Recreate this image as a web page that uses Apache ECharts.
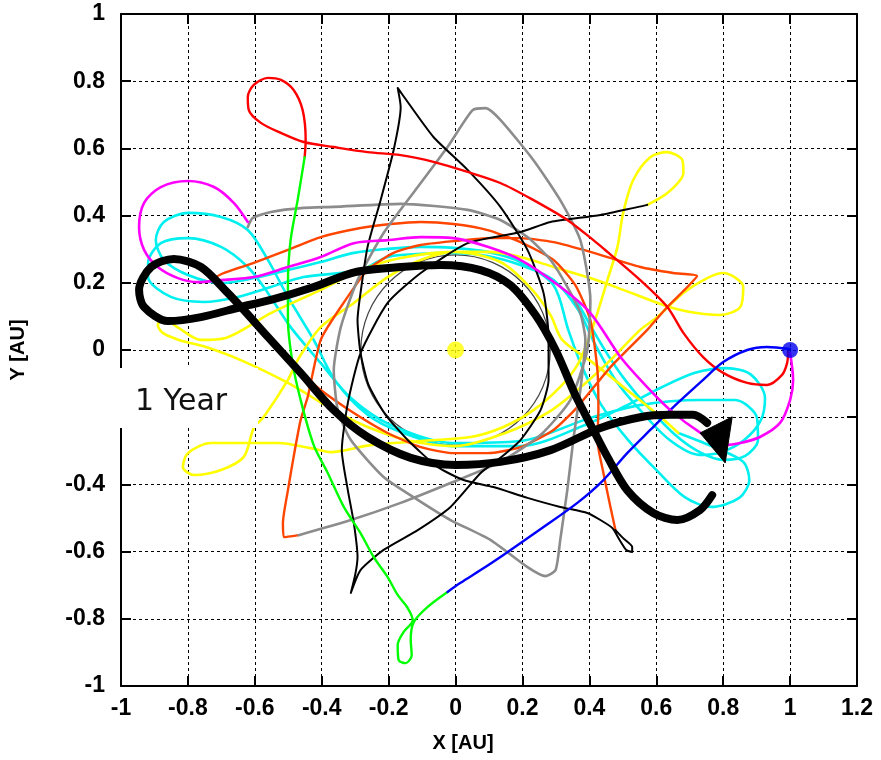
<!DOCTYPE html>
<html>
<head>
<meta charset="utf-8">
<script src="https://cdn.jsdelivr.net/npm/echarts/dist/echarts.min.js"></script>
<style>html,body{margin:0;padding:0;background:#fff}#c{width:881px;height:760px}</style>
</head>
<body>
<div id="c"></div>
<script>
// ---- tick values ----
const xTicks = [-1,-0.8,-0.6,-0.4,-0.2,0,0.2,0.4,0.6,0.8,1,1.2];
const yTicks = [-1,-0.8,-0.6,-0.4,-0.2,0,0.2,0.4,0.6,0.8,1];

// ---- trajectories [x AU, y AU] ----
const blueTrack = [[1.0,0.003],[0.931,0.009],[0.872,0],[0.8,-0.036],[0.74,-0.089],[0.651,-0.17],[0.582,-0.238],[0.513,-0.307],[0.442,-0.387],[0.364,-0.455],[0.263,-0.527],[0.143,-0.61],[0.075,-0.655],[0.015,-0.693],[-0.024,-0.72]];

const greenTrack = [[-0.024,-0.72],[-0.084,-0.765],[-0.125,-0.81],[-0.134,-0.863],[-0.131,-0.908],[-0.149,-0.932],[-0.17,-0.923],[-0.173,-0.878],[-0.155,-0.839],[-0.128,-0.804],[-0.143,-0.768],[-0.173,-0.729],[-0.203,-0.676],[-0.245,-0.616],[-0.284,-0.545],[-0.334,-0.467],[-0.382,-0.366],[-0.424,-0.283],[-0.463,-0.149],[-0.487,-0.039],[-0.501,0.089],[-0.501,0.199],[-0.493,0.327],[-0.472,0.446],[-0.451,0.574]];

const redTrack = [[-0.451,0.574],[-0.448,0.625],[-0.457,0.714],[-0.484,0.774],[-0.522,0.804],[-0.561,0.81],[-0.603,0.789],[-0.621,0.753],[-0.618,0.714],[-0.582,0.676],[-0.522,0.646],[-0.454,0.619],[-0.364,0.604],[-0.263,0.589],[-0.164,0.58],[-0.066,0.56],[0.036,0.53],[0.134,0.497],[0.233,0.446],[0.334,0.387],[0.412,0.327],[0.454,0.292],[0.552,0.208],[0.633,0.128],[0.681,0.051],[0.74,-0.021],[0.8,-0.068],[0.872,-0.098],[0.931,-0.104],[0.976,-0.074],[0.991,-0.039],[0.994,-0.006]];

const magentaTrack = [[1.0,-0.009],[1.009,-0.089],[1.0,-0.149],[0.97,-0.217],[0.91,-0.259],[0.851,-0.277],[0.806,-0.283],[0.73,-0.245],[0.642,-0.179],[0.561,-0.098],[0.493,-0.021],[0.403,0.11],[0.313,0.188],[0.194,0.268],[0.096,0.307],[-0.006,0.333],[-0.104,0.336],[-0.203,0.327],[-0.304,0.318],[-0.403,0.277],[-0.501,0.247],[-0.603,0.217],[-0.701,0.208],[-0.77,0.202],[-0.83,0.214],[-0.89,0.247],[-0.931,0.298],[-0.946,0.366],[-0.931,0.438],[-0.881,0.485],[-0.8,0.503],[-0.722,0.485],[-0.663,0.438],[-0.621,0.381]];

const grayTrack = [[-0.469,-0.551],[-0.313,-0.506],[-0.164,-0.455],[-0.015,-0.396],[0.134,-0.333],[0.254,-0.253],[0.343,-0.149],[0.394,0],[0.403,0.149],[0.373,0.327],[0.313,0.446],[0.233,0.565],[0.134,0.685],[0.09,0.72],[0.051,0.714],[-0.024,0.604],[-0.113,0.485],[-0.215,0.348],[-0.293,0.208],[-0.343,0.068],[-0.364,-0.06],[-0.352,-0.179],[-0.313,-0.268],[-0.215,-0.378],[-0.113,-0.446],[-0.015,-0.506],[0.104,-0.565],[0.215,-0.646],[0.269,-0.673],[0.299,-0.655],[0.313,-0.565],[0.334,-0.417],[0.352,-0.268],[0.373,-0.119],[0.388,0.03],[0.373,0.11],[0.334,0.188],[0.284,0.268],[0.215,0.336],[0.134,0.387],[0.036,0.417],[-0.164,0.435],[-0.364,0.426],[-0.454,0.423],[-0.552,0.411],[-0.606,0.393],[-0.621,0.366]];

const orangeTrack = [[-0.469,-0.551],[-0.513,-0.557],[-0.516,-0.515],[-0.501,-0.417],[-0.484,-0.318],[-0.463,-0.208],[-0.442,-0.14],[-0.403,0.03],[-0.343,0.128],[-0.263,0.238],[-0.185,0.289],[-0.104,0.3125],[-0.006,0.324],[0.096,0.333],[0.194,0.333],[0.293,0.321],[0.403,0.292],[0.552,0.247],[0.651,0.229],[0.722,0.22],[0.693,0.1875],[0.633,0.128],[0.573,0.06],[0.463,-0.051],[0.364,-0.17],[0.293,-0.238],[0.194,-0.289],[0.096,-0.307],[-0.006,-0.307],[-0.104,-0.289],[-0.203,-0.247],[-0.304,-0.1875],[-0.403,-0.119],[-0.463,-0.065],[-0.543,0.015],[-0.642,0.134],[-0.716,0.214],[-0.603,0.259],[-0.501,0.298],[-0.403,0.336],[-0.284,0.363],[-0.194,0.375],[-0.104,0.381],[-0.006,0.375],[0.096,0.357],[0.194,0.321],[0.293,0.268],[0.358,0.193],[0.403,0.089],[0.424,-0.06],[0.427,-0.179],[0.424,-0.268],[0.442,-0.366],[0.463,-0.467],[0.478,-0.536]];

const blackTrack = [[0.478,-0.536],[0.501,-0.56],[0.528,-0.586],[0.528,-0.601],[0.51,-0.595],[0.49,-0.565],[0.469,-0.53],[0.433,-0.506],[0.394,-0.485],[0.313,-0.467],[0.215,-0.44],[0.113,-0.408],[0.024,-0.387],[-0.054,-0.348],[-0.143,-0.268],[-0.209,-0.193],[-0.26,-0.104],[-0.284,-0.009],[-0.293,0.089],[-0.284,0.17],[-0.263,0.307],[-0.224,0.446],[-0.185,0.595],[-0.164,0.723],[-0.173,0.78],[-0.158,0.759],[-0.066,0.634],[0.036,0.536],[0.134,0.426],[0.215,0.298],[0.263,0.17],[0.278,0.039],[0.278,-0.089],[0.254,-0.179],[0.194,-0.268],[0.134,-0.321],[0.075,-0.366],[-0.015,-0.467],[-0.113,-0.536],[-0.215,-0.595],[-0.284,-0.655],[-0.313,-0.723],[-0.299,-0.664],[-0.293,-0.616],[-0.304,-0.515],[-0.322,-0.417],[-0.34,-0.298],[-0.322,-0.158],[-0.284,-0.009],[-0.203,0.14],[-0.104,0.229],[0.036,0.318],[0.194,0.351],[0.284,0.381],[0.433,0.402],[0.573,0.432]];

const yellowTrack = [[0.573,0.432],[0.633,0.467],[0.681,0.527],[0.678,0.565],[0.633,0.589],[0.582,0.574],[0.531,0.506],[0.501,0.408],[0.484,0.307],[0.454,0.208],[0.424,0.11],[0.397,0.03],[0.364,-0.045],[0.313,-0.11],[0.233,-0.179],[0.143,-0.229],[0.045,-0.259],[-0.104,-0.271],[-0.254,-0.283],[-0.373,-0.304],[-0.433,-0.292],[-0.531,-0.277],[-0.633,-0.277],[-0.731,-0.277],[-0.8,-0.307],[-0.815,-0.348],[-0.782,-0.372],[-0.701,-0.357],[-0.633,-0.318],[-0.603,-0.232],[-0.573,-0.199],[-0.501,-0.089],[-0.472,-0.03],[-0.403,0.068],[-0.304,0.14],[-0.203,0.217],[-0.104,0.268],[-0.006,0.292],[0.096,0.292],[0.194,0.277],[0.293,0.247],[0.403,0.214],[0.501,0.179],[0.621,0.134],[0.701,0.113],[0.791,0.104],[0.851,0.128],[0.86,0.1875],[0.8,0.229],[0.752,0.214],[0.681,0.17],[0.603,0.098],[0.552,0.06],[0.469,-0.024],[0.382,-0.104],[0.278,-0.185],[0.149,-0.247],[0,-0.286],[-0.134,-0.271],[-0.263,-0.229],[-0.364,-0.179],[-0.501,-0.098],[-0.642,-0.03],[-0.746,0.009],[-0.827,0.03],[-0.875,0.051],[-0.89,0.074],[-0.872,0.092],[-0.827,0.065],[-0.761,0.03],[-0.687,0.036],[-0.552,0.11],[-0.403,0.179],[-0.284,0.238],[-0.164,0.274],[-0.006,0.292],[0.134,0.262],[0.224,0.185],[0.284,0.104],[0.319,0.03],[0.412,-0.039],[0.513,-0.119],[0.612,-0.199],[0.666,-0.247]];

const cyanTrack = [[0.666,-0.247],[0.779,-0.292],[0.86,-0.333],[0.878,-0.387],[0.848,-0.44],[0.764,-0.467],[0.684,-0.437],[0.6,-0.357],[0.516,-0.268],[0.436,-0.164],[0.376,-0.045],[0.337,0.06],[0.293,0.193],[0.194,0.262],[0.096,0.292],[-0.006,0.304],[-0.104,0.307],[-0.203,0.301],[-0.304,0.289],[-0.403,0.262],[-0.501,0.238],[-0.603,0.214],[-0.701,0.199],[-0.8,0.223],[-0.872,0.268],[-0.896,0.327],[-0.872,0.381],[-0.8,0.408],[-0.701,0.396],[-0.621,0.357],[-0.561,0.268],[-0.501,0.158],[-0.424,0.03],[-0.361,-0.089],[-0.263,-0.193],[-0.164,-0.244],[-0.006,-0.286],[0.194,-0.286],[0.394,-0.220],[0.513,-0.164],[0.612,-0.113],[0.716,-0.068],[0.81,-0.054],[0.884,-0.074],[0.925,-0.143],[0.913,-0.208],[0.863,-0.268],[0.794,-0.304],[0.728,-0.312],[0.64,-0.268],[0.552,-0.179],[0.478,-0.089],[0.418,0.015],[0.367,0.119],[0.293,0.208],[0.194,0.253],[0.096,0.280],[-0.006,0.289],[-0.104,0.286],[-0.203,0.277],[-0.284,0.238],[-0.454,0.217],[-0.552,0.1875],[-0.651,0.158],[-0.752,0.143],[-0.851,0.158],[-0.919,0.217],[-0.919,0.259],[-0.881,0.318],[-0.8,0.333],[-0.701,0.307],[-0.621,0.247],[-0.561,0.17],[-0.493,0.068],[-0.403,-0.039],[-0.313,-0.143],[-0.194,-0.223],[-0.006,-0.277],[0.194,-0.271],[0.403,-0.202],[0.552,-0.164],[0.731,-0.149],[0.836,-0.149],[0.901,-0.202],[0.904,-0.268],[0.866,-0.315],[0.8,-0.327],[0.73,-0.304],[0.657,-0.253],[0.57,-0.164],[0.5,-0.08],[0.44,0.01],[0.36,0.15]];

const thickYear = [[0.767,-0.432],[0.731,-0.476],[0.663,-0.506],[0.591,-0.485],[0.513,-0.417],[0.454,-0.318],[0.412,-0.238],[0.358,-0.134],[0.299,0],[0.239,0.104],[0.164,0.193],[0.075,0.238],[-0.045,0.253],[-0.164,0.247],[-0.3,0.232],[-0.424,0.1875],[-0.552,0.149],[-0.642,0.128],[-0.761,0.098],[-0.86,0.086],[-0.931,0.128],[-0.946,0.179],[-0.91,0.247],[-0.842,0.271],[-0.761,0.247],[-0.681,0.17],[-0.633,0.119],[-0.561,0.039],[-0.463,-0.068],[-0.364,-0.179],[-0.263,-0.259],[-0.134,-0.321],[0,-0.342],[0.134,-0.333],[0.284,-0.298],[0.433,-0.232],[0.552,-0.2],[0.642,-0.193],[0.71,-0.193],[0.752,-0.217]];
const arrowHead = [[0.731,-0.247],[0.827,-0.199],[0.806,-0.336]];

const refCircle = [[0,0,0.283]];
const sunPos = [[0,0]];
const earthPos = [[1,0]];
const noteText = '1 Year';

// ---- chart ----
const chart = echarts.init(document.getElementById('c'), null, {renderer:'canvas'});
const fmt = v => String(Number(v.toFixed(1)));
const FONT = 'Liberation Sans, Arial, sans-serif';
const lbl = {fontFamily:FONT, fontWeight:'bold', fontSize:23, color:'#000'};
function track(name, data, color, width, z, smooth){
  return {name, type:'line', data, showSymbol:false, symbol:'none', smooth: smooth===undefined?0.3:smooth,
    lineStyle:{color, width, cap:'round', join:'round'}, z, silent:true, animation:false, clip:true};
}
chart.setOption({
  animation:false,
  backgroundColor:'#fff',
  grid:{left:120, right:24, top:14, bottom:74, containLabel:false},
  xAxis:[
    {type:'value', min:-1, max:1.2, interval:0.2, position:'bottom',
     name:'X [AU]', nameLocation:'middle', nameGap:47,
     nameTextStyle:{fontFamily:FONT, fontWeight:'bold', fontSize:20, color:'#000', padding:[0,52,0,0]},
     axisLine:{onZero:false, lineStyle:{color:'#000', width:2}},
     axisTick:{inside:true, length:10, lineStyle:{color:'#000', width:2}},
     axisLabel:Object.assign({formatter:fmt, margin:11}, lbl),
     splitLine:{show:true, lineStyle:{color:'#000', width:1, type:[3,3]}}},
    {type:'value', min:-1, max:1.2, interval:0.2, position:'top',
     axisLine:{onZero:false, lineStyle:{color:'#000', width:2}},
     axisTick:{inside:true, length:10, lineStyle:{color:'#000', width:2}},
     axisLabel:{show:false}, splitLine:{show:false}}
  ],
  yAxis:[
    {type:'value', min:-1, max:1, interval:0.2, position:'left',
     name:'Y [AU]', nameLocation:'middle', nameGap:93, nameRotate:90,
     nameTextStyle:{fontFamily:FONT, fontWeight:'bold', fontSize:20, color:'#000'},
     axisLine:{onZero:false, lineStyle:{color:'#000', width:2}},
     axisTick:{inside:true, length:10, lineStyle:{color:'#000', width:2}},
     axisLabel:Object.assign({formatter:fmt, margin:16}, lbl),
     splitLine:{show:true, lineStyle:{color:'#000', width:1, type:[3,3]}}},
    {type:'value', min:-1, max:1, interval:0.2, position:'right',
     axisLine:{onZero:false, lineStyle:{color:'#000', width:2}},
     axisTick:{inside:true, length:10, lineStyle:{color:'#000', width:2}},
     axisLabel:{show:false}, splitLine:{show:false}}
  ],
  series:[
    {type:'custom', data:refCircle, z:2, silent:true,
     renderItem:function(params, api){
       const c = api.coord([api.value(0), api.value(1)]);
       const r = api.size([api.value(2), api.value(2)]);
       return {type:'ellipse', shape:{cx:c[0], cy:c[1], rx:r[0], ry:r[1]},
               style:{fill:null, stroke:'#444', lineWidth:1.2}};
     }},
    track('cyan', cyanTrack, '#00f0f0', 2.6, 3),
    track('yellow', yellowTrack, '#ffff00', 2.6, 4),
    track('orange', orangeTrack, '#ff4500', 2.4, 5, 0.2),
    track('gray', grayTrack, '#8c8c8c', 2.6, 6, 0.2),
    track('black', blackTrack, '#000', 2, 7, 0.2),
    track('red', redTrack, '#ff0000', 2.4, 8),
    track('green', greenTrack, '#00ff00', 2.4, 8),
    track('blue', blueTrack, '#0000ff', 2.4, 8),
    track('magenta', magentaTrack, '#ff00ff', 2.6, 8),
    track('year', thickYear, '#000', 8, 10),
    {type:'custom', data:[0], z:11, silent:true,
     renderItem:function(params, api){
       const pts = arrowHead.map(p => api.coord(p));
       return {type:'polygon', shape:{points:pts}, style:{fill:'#000', stroke:'#000', lineWidth:1}};
     }},
    {type:'scatter', data:sunPos, symbol:'circle', symbolSize:17, itemStyle:{color:'#ffff00'}, z:12, silent:true},
    {type:'scatter', data:earthPos, symbol:'circle', symbolSize:16, itemStyle:{color:'#0000ee'}, z:12, silent:true}
  ],
  graphic:[
    {type:'rect', left:55, top:368, shape:{width:203, height:60}, style:{fill:'#fff'}, z:100},
    {type:'text', left:135, top:387, style:{text:noteText, font:'30px "DejaVu Sans", Verdana, sans-serif', fill:'#111'}, z:101}
  ]
});
</script>
</body>
</html>
